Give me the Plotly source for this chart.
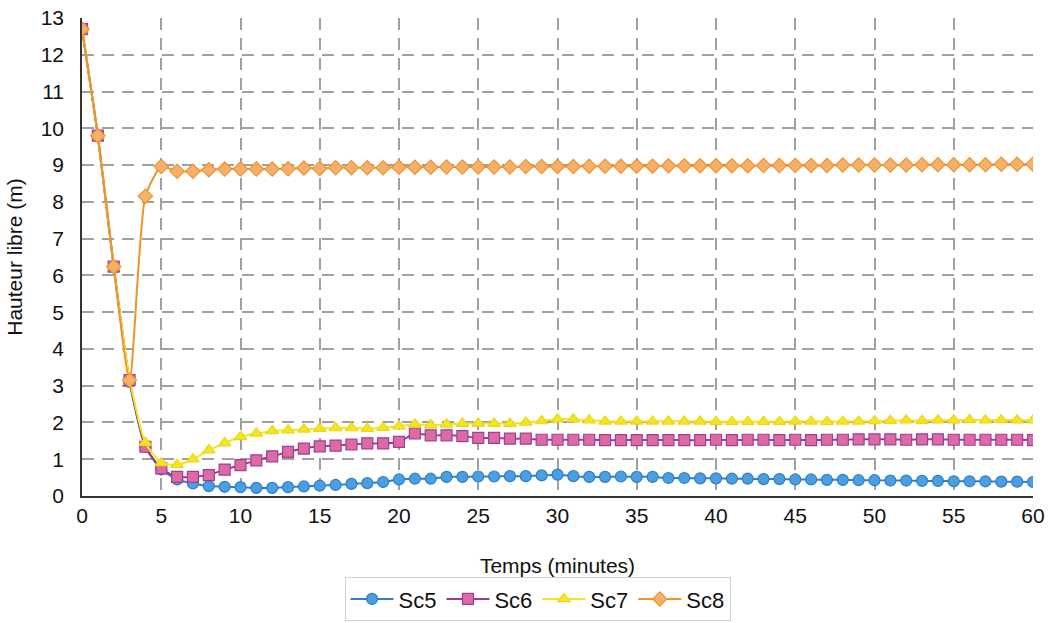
import plotly.graph_objects as go

minutes = list(range(0, 61))

sc5 = [12.7, 9.8, 6.24, 3.1, 1.34, 0.72, 0.45, 0.34, 0.27, 0.25, 0.24, 0.22, 0.22, 0.24, 0.26, 0.28, 0.30, 0.33,
       0.35, 0.38, 0.45, 0.47, 0.47, 0.52, 0.52, 0.53, 0.53, 0.54, 0.54, 0.56, 0.58, 0.54, 0.52, 0.52, 0.53, 0.52,
       0.52, 0.49, 0.49, 0.48, 0.48, 0.47, 0.47, 0.46, 0.46, 0.45, 0.45, 0.44, 0.44, 0.43, 0.43, 0.42, 0.42, 0.41,
       0.41, 0.40, 0.40, 0.40, 0.39, 0.39, 0.38]
sc6 = [12.7, 9.8, 6.24, 3.15, 1.34, 0.75, 0.52, 0.52, 0.57, 0.72, 0.84, 0.97, 1.08, 1.20, 1.29, 1.35, 1.37, 1.40,
       1.43, 1.43, 1.47, 1.70, 1.65, 1.65, 1.63, 1.58, 1.58, 1.56, 1.56, 1.53, 1.53, 1.53, 1.53, 1.52, 1.52, 1.52,
       1.52, 1.52, 1.52, 1.52, 1.53, 1.52, 1.53, 1.53, 1.52, 1.53, 1.52, 1.53, 1.53, 1.54, 1.54, 1.54, 1.53, 1.54,
       1.54, 1.53, 1.53, 1.53, 1.53, 1.53, 1.52]
sc7 = [12.7, 9.8, 6.24, 3.2, 1.45, 0.9, 0.85, 1.0, 1.25, 1.44, 1.61, 1.70, 1.77, 1.79, 1.81, 1.83, 1.85, 1.85,
       1.83, 1.86, 1.90, 1.95, 1.93, 1.95, 1.97, 1.97, 1.97, 1.97, 2.00, 2.04, 2.09, 2.09, 2.06, 2.03, 2.03, 2.03,
       2.03, 2.03, 2.03, 2.03, 2.02, 2.02, 2.02, 2.02, 2.02, 2.03, 2.03, 2.02, 2.03, 2.03, 2.04, 2.05, 2.06, 2.05,
       2.06, 2.06, 2.07, 2.06, 2.07, 2.06, 2.06]
sc8 = [12.7, 9.8, 6.24, 3.15, 8.15, 8.96, 8.83, 8.83, 8.87, 8.89, 8.89, 8.89, 8.89, 8.90, 8.92, 8.91, 8.93, 8.93,
       8.93, 8.93, 8.94, 8.94, 8.94, 8.95, 8.95, 8.95, 8.95, 8.95, 8.96, 8.96, 8.96, 8.96, 8.97, 8.97, 8.97, 8.97,
       8.97, 8.98, 8.98, 8.98, 8.98, 8.98, 8.98, 8.99, 8.99, 8.99, 8.99, 8.99, 9.00, 9.00, 9.00, 9.00, 9.00, 9.01,
       9.01, 9.01, 9.01, 9.01, 9.02, 9.02, 9.02]

series = [
    ("Sc5", sc5, "#2f7fc8", "#4a9fe0", "#2f7fc8", "circle"),
    ("Sc6", sc6, "#9b3a98", "#dd6aa0", "#a23c9c", "square"),
    ("Sc7", sc7, "#f6e51e", "#f6e51e", "#e8d818", "triangle-up"),
    ("Sc8", sc8, "#f2922b", "#f5b06a", "#f0922e", "diamond"),
]

fig = go.Figure()
for name, vals, lc, mfill, mline, sym in series:
    fig.add_trace(go.Scatter(
        x=minutes, y=vals, name=name, mode="lines+markers",
        line=dict(color=lc, width=2, shape="spline", smoothing=0.6),
        marker=dict(symbol=sym, size=11, color=mfill, line=dict(color=mline, width=1.2)),
    ))

font = "Liberation Sans, Arial, sans-serif"
grid = "#a0a0a0"
fig.update_layout(
    width=1051, height=623,
    margin=dict(l=82, r=18, t=18, b=127),
    paper_bgcolor="white", plot_bgcolor="white",
    font=dict(family=font, size=21, color="#111111"),
    showlegend=True,
    legend=dict(orientation="h", x=0.479, xanchor="center",
                yref="container", y=0.003, yanchor="bottom",
                bordercolor="#d0d0d0", borderwidth=1, font=dict(size=22),
                itemwidth=43, tracegroupgap=0),
    xaxis=dict(range=[0, 60], tickvals=list(range(0, 61, 5)), showgrid=True,
               gridcolor=grid, griddash="12px,8px", gridwidth=1.5,
               showline=True, linecolor="#333333", linewidth=1.5, zeroline=False,
               ticks="", automargin=False, ticklabeloverflow="allow",
               title=dict(text="Temps (minutes)", font=dict(size=21), standoff=36),
               tickfont=dict(size=21)),
    yaxis=dict(range=[0, 13], tickvals=list(range(0, 14)), showgrid=True,
               gridcolor=grid, griddash="12px,8px", gridwidth=1.5,
               showline=True, linecolor="#333333", linewidth=1.5, zeroline=False,
               ticks="", ticklabelstandoff=12, automargin=False, ticklabeloverflow="allow",
               title=dict(text="Hauteur libre (m)", font=dict(size=21), standoff=12),
               tickfont=dict(size=21)),
)
fig.write_html("out.html", config={"displayModeBar": False},
               post_script="document.body.style.margin='0';document.body.style.overflow='hidden';")
